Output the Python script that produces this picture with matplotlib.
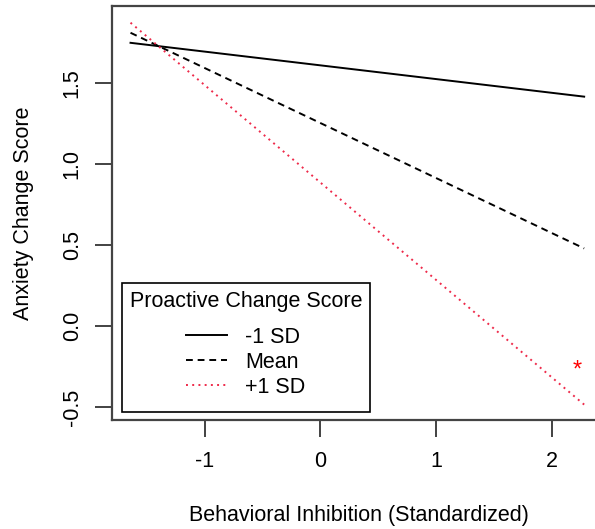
import matplotlib
matplotlib.use("Agg")
import matplotlib.pyplot as plt

plt.rcParams['font.family'] = ['Liberation Sans', 'DejaVu Sans']

# endpoints of the simple slopes
bi = [-1.64, 2.28]
low_sd = [1.748, 1.416]
mean_pc = [1.81, 0.48]
high_sd = [1.872, -0.483]
labels = ['-1 SD', 'Mean', '+1 SD']
star_xy = (2.22, -0.27)

fig = plt.figure(figsize=(5.95, 5.29), dpi=100)
ax = fig.add_axes([112 / 595, 109 / 529, 493 / 595, 414 / 529])

ax.plot(bi, low_sd, color='black', lw=1.4, ls='-', label=labels[0])
ax.plot(bi, mean_pc, color='black', lw=1.4, ls=(0, (3.5, 2.5)), label=labels[1])
ax.plot(bi, high_sd, color='#ee2a4a', lw=1.4, ls=(0, (1, 2.2)), label=labels[2])
ax.text(star_xy[0], star_xy[1], '*', color='red', fontsize=17,
        ha='center', va='center')

ax.set_xlim(-1.80, 2.46)
ax.set_ylim(-0.578, 1.975)
ax.set_xticks([-1, 0, 1, 2])
ax.set_xticklabels(['-1', '0', '1', '2'])
ax.set_yticks([-0.5, 0.0, 0.5, 1.0, 1.5])
ax.set_yticklabels(['-0.5', '0.0', '0.5', '1.0', '1.5'], rotation=90, va='center')
ax.tick_params(labelsize=15.5, length=12, width=1.2, color='#222222', pad=10)
ax.tick_params(axis='y', pad=9)
for s in ax.spines.values():
    s.set_linewidth(1.6)
    s.set_color('#444444')

ax.set_xlabel('Behavioral Inhibition (Standardized)', fontsize=15.5, labelpad=24)
ax.set_ylabel('Anxiety Change Score', fontsize=15.5, labelpad=20)

leg = ax.legend(title='Proactive Change Score', loc='lower left',
                bbox_to_anchor=(122 / 595, 117 / 529), bbox_transform=fig.transFigure,
                borderaxespad=0, fancybox=False, edgecolor='black', framealpha=1,
                fontsize=15.5, title_fontsize=15.5, handlelength=1.9, handletextpad=0.85,
                labelspacing=0.19, borderpad=0.36, alignment='center')
leg.get_frame().set_linewidth(1.2)
# R-style legend: tight sides, more room above/below the entries
leg._legend_handle_box.pad = 4.5
leg._legend_box.sep = 6.5

plt.savefig('out.png', dpi=100)
